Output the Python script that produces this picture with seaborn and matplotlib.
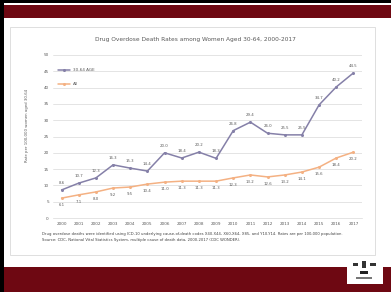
import matplotlib
matplotlib.use("Agg")
import matplotlib.pyplot as plt
import seaborn as sns
import pandas as pd
from matplotlib.patches import Rectangle

# ---- data ----
years = list(range(2000, 2018))
women_30_64 = [8.6, 10.7, 12.3, 16.3, 15.3, 14.4, 20.0, 18.4, 20.2, 18.3,
               26.8, 29.4, 26.0, 25.5, 25.5, 34.7, 40.2, 44.5]
all_women = [6.1, 7.1, 8.0, 9.2, 9.5, 10.4, 11.0, 11.3, 11.3, 11.3,
             12.3, 13.2, 12.6, 13.2, 14.1, 15.6, 18.4, 20.2]
series_names = ["30-64 AGE", "All"]
y_ticks = [0, 5, 10, 15, 20, 25, 30, 35, 40, 45, 50]

title = "Drug Overdose Death Rates among Women Aged 30-64, 2000-2017"
y_label = "Rate per 100,000 women aged 30-64"
foot1 = ("Drug overdose deaths were identified using ICD-10 underlying cause-of-death codes X40-X44, X60-X64, X85, "
         "and Y10-Y14. Rates are per 100,000 population.")
foot2 = "Source: CDC, National Vital Statistics System, multiple cause of death data, 2000-2017 (CDC WONDER)."

df = pd.DataFrame({
    "year": years * 2,
    "rate": women_30_64 + all_women,
    "group": [series_names[0]] * len(years) + [series_names[1]] * len(years),
})

sns.set_theme(style="white")
plt.rcParams["font.family"] = ["DejaVu Sans"]

W, H = 391, 292
fig = plt.figure(figsize=(W / 100, H / 100), dpi=100)
fig.patch.set_facecolor("white")

def frect(x0, y0, x1, y1, z=-10, **kw):
    # pixel coords (top-left origin) -> figure rect
    r = Rectangle((x0 / W, 1 - y1 / H), (x1 - x0) / W, (y1 - y0) / H,
                  transform=fig.transFigure, zorder=z, **kw)
    fig.patches.append(r)

red = "#6e0812"
frect(0, 0, W, 3, facecolor="black", edgecolor="none")
frect(0, 5, W, 18, facecolor=red, edgecolor="none")
frect(0, 267, W, 292, facecolor=red, edgecolor="none")
frect(0, 0, 4, H, facecolor="black", edgecolor="none")
frect(10, 27, 375, 255, facecolor="white", edgecolor="#d9d9d9", linewidth=0.6)
# logo box
frect(347, 257, 383, 284, facecolor="white", edgecolor="none")
frect(353, 263, 358, 266, facecolor="#333333", edgecolor="none")
frect(362, 261, 366, 268, facecolor="#333333", edgecolor="none")
frect(370, 263, 376, 266, facecolor="#333333", edgecolor="none")
frect(360, 271, 368, 274, facecolor="#222222", edgecolor="none")
frect(356, 277, 372, 279, facecolor="#777777", edgecolor="none")

ax = fig.add_axes([53 / W, 1 - 218 / H, 309 / W, 163 / H])
ax.set_facecolor("none")
ax.set_zorder(5)
palette = {series_names[0]: "#8580a8", series_names[1]: "#f4b183"}
sns.lineplot(data=df, x="year", y="rate", hue="group", palette=palette, ax=ax,
             marker="o", markersize=2.2, markeredgewidth=0, linewidth=1.1)

ax.set_xlim(years[0] - 0.5, years[-1] + 0.5)
ax.set_ylim(0, 50)
ax.set_yticks(y_ticks)
ax.set_xticks(years)
ax.set_xticklabels([str(y) for y in years])
ax.tick_params(axis="both", length=0, labelsize=3.0, labelcolor="#595959")
ax.tick_params(axis="y", pad=3)
ax.tick_params(axis="x", pad=3)
ax.grid(axis="y", color="#d9d9d9", linewidth=0.5)
ax.set_axisbelow(True)
for s in ["top", "right", "left"]:
    ax.spines[s].set_visible(False)
ax.spines["bottom"].set_color("#d9d9d9")
ax.spines["bottom"].set_linewidth(0.5)
ax.set_xlabel("")
ax.set_ylabel("")

# data labels
for x, v in zip(years, women_30_64):
    ax.annotate(f"{v:.1f}", (x, v), xytext=(0, 3.5), textcoords="offset points",
                ha="center", va="bottom", fontsize=2.8, color="#595959")
for x, v in zip(years, all_women):
    ax.annotate(f"{v:.1f}", (x, v), xytext=(0, -3.5), textcoords="offset points",
                ha="center", va="top", fontsize=2.8, color="#595959")

leg = ax.legend(loc="upper left", bbox_to_anchor=(0.01, 0.93), frameon=False,
                fontsize=3.0, handlelength=2.8, labelspacing=2.4, borderpad=0)
for t in leg.get_texts():
    t.set_color("#595959")

fig.text(0.5, 1 - 40 / H, title, ha="center", va="center", fontsize=4.2, color="#595959")
fig.text(27 / W, 1 - 125 / H, y_label, ha="center", va="center", rotation=90,
         fontsize=2.8, color="#595959")
fig.text(42 / W, 1 - 234 / H, foot1, ha="left", va="center", fontsize=2.7, color="#404040")
fig.text(42 / W, 1 - 240 / H, foot2, ha="left", va="center", fontsize=2.7, color="#404040")

fig.savefig("out.png", dpi=100)
